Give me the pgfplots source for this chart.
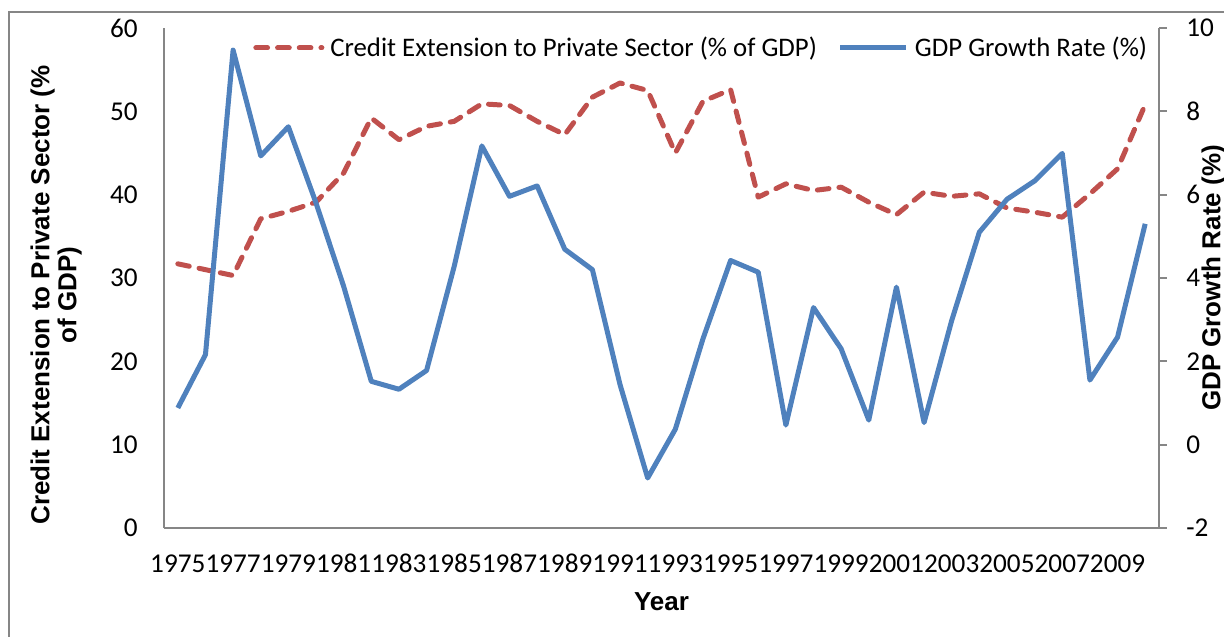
\documentclass[border=0pt]{standalone}
\usepackage{fontspec}
\setmainfont{Carlito}
\newfontfamily\titlefont{Liberation Sans}
\usepackage{pgfplots}
\usepackage{pgfplotstable}
\pgfplotsset{compat=1.18}

\definecolor{gdpblue}{HTML}{4F81BD}
\definecolor{credred}{HTML}{C0504D}
\definecolor{axgray}{HTML}{868686}

% credit: % of GDP (left axis), gdp: growth rate % (right axis)
\pgfplotstableread{
year credit gdp
1975 31.7 0.88
1976 31.0 2.16
1977 30.3 9.47
1978 37.1 6.93
1979 38.0 7.63
1980 39.1 5.80
1981 42.6 3.80
1982 49.2 1.52
1983 46.6 1.33
1984 48.2 1.78
1985 48.8 4.28
1986 50.9 7.17
1987 50.7 5.96
1988 48.8 6.21
1989 47.2 4.69
1990 51.7 4.20
1991 53.4 1.44
1992 52.5 -0.80
1993 45.0 0.37
1994 51.2 2.54
1995 52.6 4.42
1996 39.7 4.14
1997 41.3 0.47
1998 40.5 3.29
1999 40.9 2.30
2000 39.1 0.59
2001 37.6 3.78
2002 40.3 0.53
2003 39.8 2.98
2004 40.1 5.10
2005 38.4 5.89
2006 37.9 6.33
2007 37.3 6.99
2008 40.1 1.55
2009 43.1 2.58
2010 50.8 5.30
}\datatable

\newcommand{\tickfont}{\fontsize{13.6bp}{16bp}\selectfont}
\newcommand{\legfont}{\fontsize{13.4bp}{16bp}\selectfont}
\newcommand{\labfont}{\titlefont\bfseries\fontsize{13bp}{13.5bp}\selectfont}

\pgfplotsset{
  common/.style={
    scale only axis,
    width=497.5bp, height=250bp,
    xmin=1974.5, xmax=2010.5,
    axis line style={axgray, line width=0.9bp},
    tick label style={font=\tickfont},
    /pgf/number format/assume math mode=true,
    clip=false,
  },
}

\begin{document}
\begin{tikzpicture}
\path[use as bounding box, clip] (-82bp,-54.5bp) rectangle (530bp,264bp);
\draw[axgray, line width=0.9bp] (-77.5bp,258bp) rectangle (620bp,-90bp);

\begin{axis}[
  common,
  axis y line*=left, axis x line*=bottom,
  ymin=0, ymax=60, ytick={0,10,...,60},
  xtick={1975,1977,...,2009},
  xticklabel style={/pgf/number format/1000 sep={}, anchor=north, inner sep=0pt, yshift=-13bp},
  yticklabel style={anchor=east, inner sep=0pt, xshift=-13bp},
  major tick length=0pt,
  xlabel={Year},
  xlabel style={font=\labfont, at={(axis description cs:0.5,-0.148)}, anchor=center},
  ylabel={Credit Extension to Private Sector (\%\\of GDP)},
  ylabel style={font=\labfont, align=center, at={(axis description cs:-0.1085,0.466)}, anchor=center},
]
\addplot[credred, line width=2.5bp, line cap=round, line join=round,
  dash pattern=on 5.85bp off 5bp] table[x=year, y=credit] {\datatable};
\end{axis}

\begin{axis}[
  common,
  axis y line*=right, axis x line=none,
  ymin=-2, ymax=10, ytick={-2,0,...,10},
  tick align=outside, major tick length=4bp,
  major tick style={axgray, line width=0.9bp},
  yticklabel style={anchor=west, inner sep=0pt, xshift=9.5bp},
  ylabel={GDP Growth Rate (\%)},
  ylabel style={font=\labfont, at={(axis description cs:1.0548,0.5)}, anchor=center},
  legend columns=2,
  legend style={draw=none, fill=none, at={(axis description cs:0.0834,0.96)}, anchor=west,
    font=\legfont, nodes={inner xsep=3bp, inner ysep=0pt},
    /tikz/every even column/.append style={column sep=7.5bp}},
  legend image code/.code={\draw[#1] (0bp,0bp) -- (33bp,0bp);},
]
\addlegendimage{credred, line width=2.5bp, line cap=round, dash pattern=on 5.85bp off 5bp}
\addlegendentry{Credit Extension to Private Sector (\% of GDP)}
\addplot[gdpblue, line width=2.5bp, line join=round] table[x=year, y=gdp] {\datatable};
\addlegendentry{GDP Growth Rate (\%)}
\end{axis}
\end{tikzpicture}
\end{document}
